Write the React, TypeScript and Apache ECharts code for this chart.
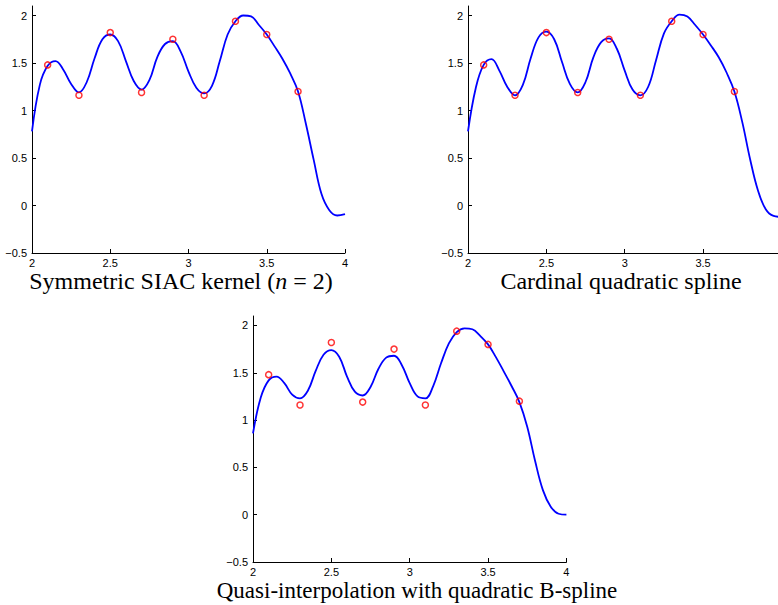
import React, { useEffect, useRef } from "react";
import * as echarts from "echarts";

// x positions of the sampled curves
const xs = [
  2.0, 2.05, 2.1, 2.15, 2.2, 2.25, 2.3, 2.35, 2.4, 2.45, 2.5, 2.55, 2.6, 2.65,
  2.7, 2.75, 2.8, 2.85, 2.9, 2.95, 3.0, 3.05, 3.1, 3.15, 3.2, 3.25, 3.3, 3.35,
  3.4, 3.45, 3.5, 3.55, 3.6, 3.65, 3.7, 3.75, 3.8, 3.85, 3.9, 3.95, 4.0,
];

const siacCurve = [
  0.78, 1.27, 1.47, 1.52, 1.43, 1.28, 1.19, 1.3, 1.55, 1.75, 1.8, 1.73, 1.52,
  1.31, 1.22, 1.32, 1.56, 1.7, 1.73, 1.62, 1.41, 1.24, 1.18, 1.26, 1.52, 1.8,
  1.94, 2.0, 1.99, 1.9, 1.8, 1.675, 1.545, 1.39, 1.2, 0.86, 0.48, 0.12, -0.05,
  -0.105, -0.09,
];

const cardinalCurve = [
  0.78, 1.24, 1.48, 1.54, 1.42, 1.25, 1.16, 1.27, 1.55, 1.77, 1.83, 1.75, 1.51,
  1.28, 1.19, 1.3, 1.56, 1.72, 1.76, 1.65, 1.42, 1.22, 1.16, 1.25, 1.53, 1.81,
  1.94, 2.01, 1.99, 1.9, 1.8, 1.685, 1.56, 1.4, 1.2, 0.88, 0.49, 0.16, -0.04,
  -0.11, -0.12,
];

const quasiCurve = [
  0.86, 1.24, 1.42, 1.46, 1.39, 1.27, 1.23, 1.31, 1.52, 1.69, 1.74, 1.67, 1.46,
  1.3, 1.26, 1.35, 1.54, 1.66, 1.68, 1.58, 1.39, 1.25, 1.23, 1.36, 1.6, 1.81,
  1.93, 1.97, 1.96, 1.89, 1.8, 1.665, 1.515, 1.36, 1.19, 0.93, 0.57, 0.26, 0.085,
  0.01, 0.0,
];

// sample points (red circles)
const sampleX = [2.1, 2.3, 2.5, 2.7, 2.9, 3.1, 3.3, 3.5, 3.7];
const sampleY = [1.48, 1.16, 1.82, 1.19, 1.75, 1.16, 1.94, 1.8, 1.2];

const yTicks = [-0.5, 0, 0.5, 1, 1.5, 2];

const panelTitles = [
  "Symmetric SIAC kernel ({i|n} = 2)",
  "Cardinal quadratic spline",
  "Quasi-interpolation with quadratic B-spline",
];

const fmt = (v: number) => (v < 0 ? "\u2212" + Math.abs(v) : String(v));

export default function App() {
  const ref = useRef<HTMLDivElement>(null);

  useEffect(() => {
    if (!ref.current) return;
    const chart = echarts.init(ref.current, undefined, { renderer: "svg" });

    const curves = [siacCurve, cardinalCurve, quasiCurve];
    const grids = [
      { left: 32, top: 6, width: 313, height: 247, outerBoundsMode: "none", containLabel: false },
      { left: 468, top: 6, width: 313.4, height: 247, outerBoundsMode: "none", containLabel: false },
      { left: 253, top: 316, width: 313.4, height: 246, outerBoundsMode: "none", containLabel: false },
    ];

    const axisCommon = {
      axisLine: { show: true, onZero: false, lineStyle: { color: "#000", width: 1 } },
      axisTick: { show: true, inside: true, length: 4, lineStyle: { color: "#000", width: 1 } },
      splitLine: { show: false },
    };
    const labelCommon = {
      fontFamily: "Liberation Sans",
      fontSize: 11,
      color: "#000",
    };

    const xAxis = grids.map((_, i) => ({
      type: "value",
      gridIndex: i,
      min: 2,
      max: 4,
      interval: 0.5,
      ...axisCommon,
      axisLabel: {
        ...labelCommon,
        margin: 4,
        formatter: fmt,
        showMinLabel: true,
        // the second panel's "4" falls outside the picture in the reference
        showMaxLabel: i !== 1,
      },
    }));

    const yAxis = grids.map((_, i) => ({
      type: "value",
      gridIndex: i,
      min: -0.5,
      max: 2.1,
      interval: 0.5,
      ...axisCommon,
      axisTick: { ...axisCommon.axisTick, customValues: yTicks },
      axisLabel: { ...labelCommon, margin: 5, formatter: fmt, customValues: yTicks },
    }));

    const series: any[] = [];
    curves.forEach((c, i) => {
      series.push({
        type: "line",
        xAxisIndex: i,
        yAxisIndex: i,
        data: xs.map((x, k) => [x, c[k]]),
        smooth: 0.4,
        showSymbol: false,
        lineStyle: { color: "#0000ff", width: 1.8 },
        z: 2,
      });
      series.push({
        type: "scatter",
        xAxisIndex: i,
        yAxisIndex: i,
        data: sampleX.map((x, k) => [x, sampleY[k]]),
        symbol: "circle",
        symbolSize: 6,
        itemStyle: { color: "rgba(0,0,0,0)", borderColor: "#ff0000", borderWidth: 1.5 },
        z: 3,
      });
    });

    const titlePos = [
      [181, 281],
      [621, 281],
      [417, 590],
    ];
    const titleSizes = [24, 24, 23];
    const serif = "Liberation Serif";
    const graphic = panelTitles.map((t, i) => ({
      type: "text",
      x: titlePos[i][0],
      y: titlePos[i][1],
      style: {
        text: t,
        fontFamily: serif,
        fontSize: titleSizes[i],
        fill: "#000",
        textAlign: "center",
        textVerticalAlign: "middle",
        rich: {
          i: { fontFamily: serif, fontSize: titleSizes[i], fontStyle: "italic", fill: "#000" },
        },
      },
    }));

    chart.setOption({
      animation: false,
      backgroundColor: "#fff",
      grid: grids,
      xAxis,
      yAxis,
      series,
      graphic,
    });

    return () => chart.dispose();
  }, []);

  return (
    <div
      ref={ref}
      style={{ position: "absolute", left: 0, top: 0, width: 778, height: 605 }}
    />
  );
}
